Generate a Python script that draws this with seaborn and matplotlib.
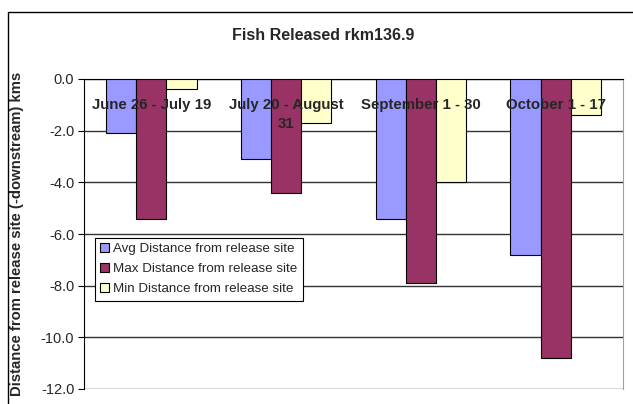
import numpy as np
import pandas as pd
import seaborn as sns
import matplotlib.pyplot as plt
from matplotlib.patches import Rectangle
import matplotlib.ticker as ticker

periods = ["June 26 - July 19", "July 20 - August\n31", "September 1 - 30", "October 1 - 17"]
series = ["Avg Distance from release site", "Max Distance from release site", "Min Distance from release site"]
avg_dist = [-2.1, -3.1, -5.4, -6.8]
max_dist = [-5.4, -4.4, -7.9, -10.8]
min_dist = [-0.4, -1.7, -4.0, -1.4]
colors = ["#9999FF", "#993366", "#FFFFCC"]

df = pd.DataFrame({
    "period": periods * 3,
    "series": [series[0]] * 4 + [series[1]] * 4 + [series[2]] * 4,
    "km": avg_dist + max_dist + min_dist,
})

sns.set_style("white")
plt.rcParams['font.family'] = ['Liberation Sans', 'DejaVu Sans']
plt.rcParams['axes.unicode_minus'] = False

fig = plt.figure(figsize=(6.33, 4.04), dpi=100)
ax = fig.add_axes([84 / 633, 1 - 389 / 404, (623 - 84) / 633, (389 - 79) / 404])

sns.barplot(data=df, x="period", y="km", hue="series", palette=colors,
            width=0.67, edgecolor="black", linewidth=0.8, saturation=1, ax=ax, zorder=3)

ax.set_ylim(-12, 0)
ax.set_xlim(-0.5, 3.5)
ax.yaxis.set_major_locator(ticker.MultipleLocator(2))
ax.yaxis.set_major_formatter(ticker.FormatStrFormatter('%.1f'))
ax.grid(axis='y', color='#333333', linewidth=1)
# gridlines under the bars, category labels over them
ax.yaxis.set_zorder(0.5)
ax.xaxis.set_zorder(5)

# category axis crosses at zero, labels hang below it
ax.spines['bottom'].set_position(('data', 0))
ax.spines['bottom'].set_color('black')
ax.spines['left'].set_color('black')
ax.spines['top'].set_visible(False)
ax.spines['right'].set_color('#a0a0a0')
ax.set_xticks([0.5, 1.5, 2.5])
ax.set_xticklabels([])
ax.set_xticks(range(4), minor=True)
ax.set_xticklabels(periods, minor=True, fontsize=10.8, fontweight='bold')
ax.tick_params(axis='x', which='major', direction='in', length=4, color='black')
ax.tick_params(axis='x', which='minor', length=0, pad=14)
ax.tick_params(axis='y', which='major', left=True, direction='out', length=4, labelsize=10.5,
               color='black', pad=3)
for lab in ax.get_xticklabels(minor=True):
    lab.set_verticalalignment('top')
    lab.set_linespacing(1.45)

ax.set_xlabel("")
ax.set_ylabel("Distance from release site (-downstream) kms", fontsize=10.7, fontweight='bold', labelpad=12)
fig.text(323 / 633, 1 - 35 / 404, "Fish Released rkm136.9", ha='center', va='center',
         fontsize=11.5, fontweight='bold')

handles, labels = ax.get_legend_handles_labels()
ax.legend(handles, labels, loc='upper left', bbox_to_anchor=(95 / 633, 1 - 238 / 404),
          bbox_transform=fig.transFigure, fontsize=9.6, frameon=True, fancybox=False,
          edgecolor='black', framealpha=1, handlelength=0.65, handleheight=0.65,
          handletextpad=0.3, borderpad=0.4, labelspacing=0.58, borderaxespad=0)
ax.get_legend().get_frame().set_linewidth(0.8)

fig.patches.append(Rectangle((8 / 633, -0.1), 1.0, 1 - 12 / 404 + 0.1, transform=fig.transFigure,
                             fill=False, edgecolor='black', linewidth=1))

fig.savefig("out.png", dpi=100)
